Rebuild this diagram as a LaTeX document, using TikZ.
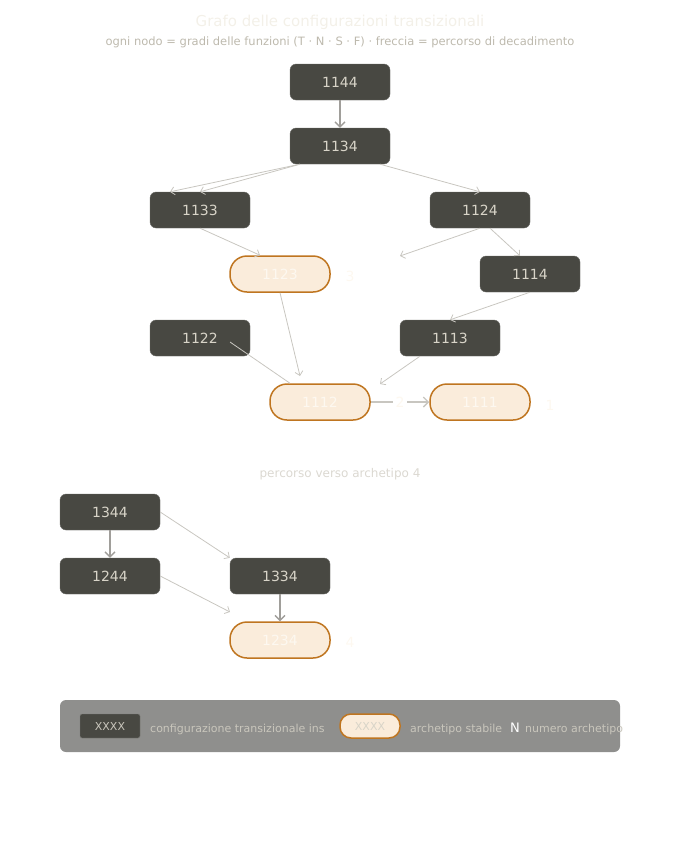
\documentclass[tikz,border=0pt]{standalone}
\usepackage{fontspec}
\setmainfont{DejaVu Sans}
\usetikzlibrary{arrows.meta}
\definecolor{dk}{HTML}{484842}
\definecolor{dkt}{HTML}{D8D4C8}
\definecolor{pf}{HTML}{FAECDB}
\definecolor{pb}{HTML}{BF7520}
\definecolor{pt}{HTML}{FDF8F0}
\definecolor{ed}{HTML}{C8C6C0}
\definecolor{sub}{HTML}{BDB9AD}
\definecolor{ttl}{HTML}{F3F0E8}
\definecolor{lg}{HTML}{8F8F8D}
\begin{document}
\begin{tikzpicture}[x=1pt,y=-1pt,
 tr/.style={draw=dk!80!white,fill=dk,rounded corners=6pt,minimum width=100pt,minimum height=36pt,text=dkt,font=\fontsize{14}{16}\selectfont,inner sep=0pt},
 ar/.style={draw=pb,line width=1.5pt,fill=pf,rounded corners=17pt,minimum width=100pt,minimum height=36pt,text=pt,font=\fontsize{14}{16}\selectfont,inner sep=0pt},
 num/.style={text=pt,font=\fontsize{14}{16}\selectfont},
 e/.style={draw=ed,line width=0.8pt,-{Straight Barb[length=4pt]}},
 es/.style={draw=ed!80!black,line width=1.4pt,-{Straight Barb[length=5pt]}}]
\useasboundingbox (0,0) rectangle (680,860);
\node[text=ttl,font=\fontsize{15}{18}\selectfont] (t) at (340,22) {Grafo delle configurazioni transizionali};
\node[text=sub,font=\fontsize{11.5}{14}\selectfont] (s) at (340,42) {ogni nodo = gradi delle funzioni (T · N · S · F) · freccia = percorso di decadimento};
\node[tr] (n1144) at (340,82) {1144};
\node[tr] (n1134) at (340,146) {1134};
\node[tr] (n1133) at (200,210) {1133};
\node[tr] (n1124) at (480,210) {1124};
\node[ar] (n1123) at (280,274) {1123};
\node[tr] (n1114) at (530,274) {1114};
\node[tr] (n1122) at (200,338) {1122};
\node[tr] (n1113) at (450,338) {1113};
\node[ar] (n1112) at (320,402) {1112};
\node[ar] (n1111) at (480,402) {1111};
\node[num] (l3) at (350,276) {3};
\node[num] (l1) at (550,405) {1};
\coordinate (c1) at (400,256);
\coordinate (c2) at (300,376);
\coordinate (c3) at (380,384);
\coordinate (c4) at (230,342);
\draw[es] (n1144) -- (n1134);
\draw[e] (n1134.south west)++(10,0) -- ([xshift=-30pt]n1133.north) ;
\draw[e] ([xshift=-40pt]n1134.south) -- (n1133.north);
\draw[e] ([xshift=40pt]n1134.south) -- (n1124.north);
\draw[e] (n1133.south) -- ([xshift=-20pt]n1123.north);
\draw[e] (n1124.south) -- (c1);
\draw[e] ([xshift=10pt]n1124.south) -- ([xshift=-10pt]n1114.north);
\draw[e] (n1114.south) -- ([xshift=0pt]n1113.north);
\draw[e] (n1123.south) -- (c2);
\draw[draw=ed,line width=0.8pt] (c4) -- ([xshift=-30pt]n1112.north);
\draw[e] ([xshift=-30pt]n1113.south) -- (c3);
\draw[draw=ed,line width=1.4pt,-{Straight Barb[length=5pt]}] (n1112.east) -- node[fill=white,text=pt,font=\fontsize{14}{16}\selectfont,inner sep=3pt]{2} (n1111.west);
\node[text=ttl!90!black,font=\fontsize{12}{14}\selectfont] (p4) at (340,474) {percorso verso archetipo 4};
\node[tr] (n1344) at (110,512) {1344};
\node[tr] (n1244) at (110,576) {1244};
\node[tr] (n1334) at (280,576) {1334};
\node[ar] (n1234) at (280,640) {1234};
\node[num] (l4) at (350,642) {4};
\coordinate (c5) at (230,612);
\draw[es] (n1344) -- (n1244);
\draw[e] (n1344.east) -- (n1334.north west);
\draw[e] (n1244.east) -- (c5);
\draw[es] (n1334) -- (n1234);
\node[fill=lg,rounded corners=6pt,minimum width=560pt,minimum height=52pt,inner sep=0pt] (leg) at (340,726) {};
\node[fill=dk,draw=dk!70!white,rounded corners=2pt,minimum width=60pt,minimum height=24pt,inner sep=0pt,text=dkt!80!lg,font=\fontsize{11}{13}\selectfont] (lk1) at (110,726) {XXXX};
\node[anchor=west,text=dkt!80!lg,font=\fontsize{11}{13}\selectfont,inner sep=0pt] (lt1) at (150,729) {configurazione transizionale ins};
\node[fill=pf,draw=pb,line width=1.5pt,rounded corners=11pt,minimum width=60pt,minimum height=24pt,inner sep=0pt,text=dkt,font=\fontsize{11}{13}\selectfont] (lk2) at (370,726) {XXXX};
\node[anchor=west,text=dkt!80!lg,font=\fontsize{11}{13}\selectfont,inner sep=0pt] (lt2) at (410,729) {archetipo stabile};
\node[anchor=west,text=white,font=\fontsize{13}{15}\selectfont,inner sep=0pt] (lt3) at (510,728) {N};
\node[anchor=west,text=dkt!80!lg,font=\fontsize{11}{13}\selectfont,inner sep=0pt] (lt4) at (525,729) {numero archetipo};
\end{tikzpicture}
\end{document}
